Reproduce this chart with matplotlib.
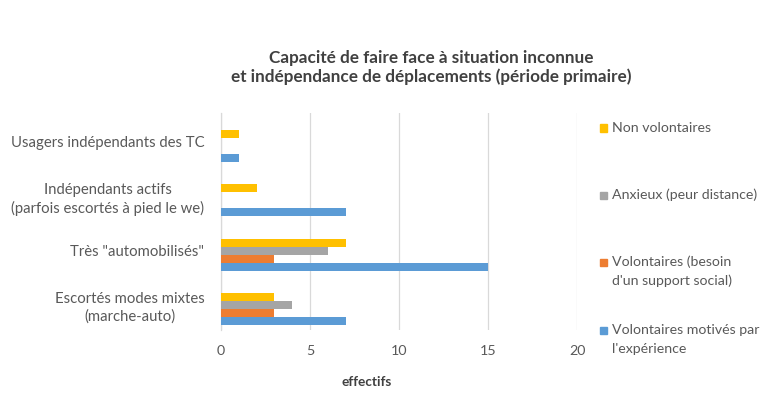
import matplotlib
matplotlib.use("Agg")
import matplotlib.pyplot as plt
from matplotlib.patches import Rectangle
import numpy as np

plt.rcParams['font.family'] = ['Lato', 'DejaVu Sans']

categories = [
    "Escortés modes mixtes\n(marche-auto)",
    "Très \"automobilisés\"",
    "Indépendants actifs\n(parfois escortés à pied le we)",
    "Usagers indépendants des TC",
]
series_names = [
    "Non volontaires",
    "Anxieux (peur distance)",
    "Volontaires (besoin\nd'un support social)",
    "Volontaires motivés par\nl'expérience",
]
non_volontaires = [3, 7, 2, 1]
anxieux = [4, 6, 0, 0]
volontaires_social = [3, 3, 0, 0]
volontaires_motives = [7, 15, 7, 1]
colors = ["#FFC000", "#A5A5A5", "#ED7D31", "#5B9BD5"]
xticks = [0, 5, 10, 15, 20]

series = [non_volontaires, anxieux, volontaires_social, volontaires_motives]

W, H = 767, 398
fig = plt.figure(figsize=(W / 100, H / 100), dpi=100)
ax = fig.add_axes([221 / W, 1 - 330 / H, (577 - 221) / W, (330 - 113) / H])

y = np.arange(len(categories))
bh = 0.148
offsets = [1.5 * bh, 0.5 * bh, -0.5 * bh, -1.5 * bh]
for vals, col, off in zip(series, colors, offsets):
    ax.barh(y + off, vals, height=bh, color=col, zorder=3)

ax.set_xlim(0, 20)
ax.set_ylim(-0.38, 3.6)
ax.set_xticks(xticks)
ax.set_yticks(y + 0.08)
ax.set_yticklabels(categories)
for lab in ax.get_yticklabels():
    lab.set_multialignment('center')
    lab.set_linespacing(1.3)
    lab.set_fontsize(10.7)

ax.grid(axis='x', color='#D9D9D9', linewidth=0.9, zorder=0)
for s in ['top', 'right', 'bottom']:
    ax.spines[s].set_visible(False)
ax.spines['left'].set_color('#D9D9D9')
ax.spines['left'].set_linewidth(0.9)
ax.tick_params(axis='both', length=0, labelcolor='#595959')
ax.tick_params(axis='x', pad=11, labelsize=10.3)
ax.tick_params(axis='y', pad=12)

fig.text(367 / W, 1 - 382 / H, "effectifs", ha='center', va='center',
         fontsize=9.8, fontweight='bold', color='#404040')

fig.text(431 / W, 1 - 58 / H, "Capacité de faire face à situation inconnue",
         ha='center', va='center', fontsize=12.3, fontweight='bold', color='#404040')
fig.text(431 / W, 1 - 77 / H, "et indépendance de déplacements (période primaire)",
         ha='center', va='center', fontsize=12.3, fontweight='bold', color='#404040')

# legend on the right, one text line at a time
leg_y = [128, 195, 262, 330]
for name, col, yy in zip(series_names, colors, leg_y):
    fig.patches.append(Rectangle((600 / W, 1 - (yy + 3.5) / H), 7 / W, 7 / H,
                                 transform=fig.transFigure, color=col, figure=fig))
    for k, line in enumerate(name.split("\n")):
        fig.text(612 / W, 1 - (yy + 19 * k) / H, line, ha='left', va='center',
                 fontsize=10.2, color='#595959')

fig.savefig("out.png", dpi=100, facecolor='white')
